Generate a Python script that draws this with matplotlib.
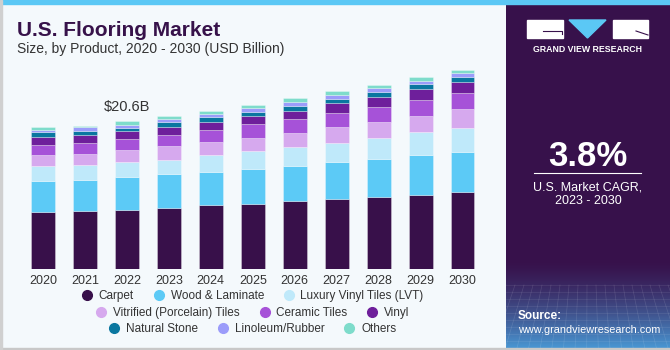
import numpy as np
import matplotlib
matplotlib.use("Agg")
import matplotlib.pyplot as plt
from matplotlib.lines import Line2D
from matplotlib.patches import Rectangle, Polygon

plt.rcParams['font.family'] = ['Liberation Sans', 'DejaVu Sans']

##------------------- DATA (USD Billion)
years = ['2020', '2021', '2022', '2023', '2024', '2025', '2026', '2027', '2028', '2029', '2030']
products = ['Carpet', 'Wood & Laminate', 'Luxury Vinyl Tiles (LVT)',
            'Vitrified (Porcelain) Tiles', 'Ceramic Tiles', 'Vinyl',
            'Natural Stone', 'Linoleum/Rubber', 'Others']

carpet     = [7.94, 8.12, 8.30, 8.50, 8.91, 9.05, 9.47, 9.83, 10.07, 10.39, 10.77]
wood       = [4.36, 4.36, 4.51, 4.74, 4.68, 4.92, 4.87, 5.11, 5.25, 5.49, 5.61]
lvt        = [2.09, 2.05, 2.09, 2.03, 2.28, 2.47, 2.69, 2.69, 3.01, 3.25, 3.30]
vitrified  = [1.49, 1.49, 1.71, 1.95, 1.89, 1.89, 1.99, 2.23, 2.23, 2.27, 2.60]
ceramic    = [1.48, 1.62, 1.53, 1.49, 1.67, 1.91, 1.95, 1.95, 2.09, 2.23, 2.27]
vinyl      = [1.11, 1.07, 1.07, 1.11, 1.11, 1.11, 1.11, 1.31, 1.31, 1.53, 1.49]
stone      = [0.61, 0.60, 0.50, 0.74, 0.61, 0.56, 0.70, 0.64, 0.78, 0.61, 0.78]
linoleum   = [0.32, 0.47, 0.37, 0.37, 0.46, 0.60, 0.56, 0.47, 0.52, 0.46, 0.47]
others     = [0.38, 0.22, 0.52, 0.42, 0.46, 0.38, 0.47, 0.56, 0.42, 0.60, 0.46]

label_year = '2022'
label_text = '$20.6B'

colors = ['#38104a', '#5ccaf6', '#bfe9fa', '#d6a9ee', '#a652d8',
          '#6e1f9b', '#0a77a0', '#9b9cfa', '#7edccb']

series = [carpet, wood, lvt, vitrified, ceramic, vinyl, stone, linoleum, others]

##------------------- FIGURE
W, H = 670, 350
fig = plt.figure(figsize=(6.7, 3.5), dpi=100)
fig.patch.set_facecolor('#f4f9fc')

# frame: top blue strip, left/bottom grey lines
fig.patches.append(Rectangle((0, 1 - 4 / H), 1, 4 / H, transform=fig.transFigure,
                             color='#5bc8f5', zorder=0))
fig.patches.append(Rectangle((0, 0), 1, 2 / H, transform=fig.transFigure,
                             color='#c8c8c8', zorder=0))
fig.patches.append(Rectangle((0, 0), 1.5 / W, 1, transform=fig.transFigure,
                             color='#d0d0d0', zorder=0))

# title
fig.text(17 / W, 1 - 30 / H, 'U.S. Flooring Market', fontsize=15, fontweight='bold',
         color='#37124a', va='center', ha='left')
fig.text(17 / W, 1 - 49 / H, 'Size, by Product, 2020 - 2030 (USD Billion)', fontsize=10,
         color='#333333', va='center', ha='left')

##------------------- BARS
px = 41.95
ax = fig.add_axes([(43 - 0.5 * px) / W, (H - 269.3) / H, 11 * px / W, 30 * 7.18 / H])
ax.set_facecolor('none')
x = np.arange(len(years))
bottom = np.zeros(len(years))
for vals, col, name in zip(series, colors, products):
    ax.bar(x, vals, 0.57, bottom=bottom, color=col, edgecolor=(1, 1, 1, 0.35),
           linewidth=0.6, label=name)
    bottom += np.array(vals)

i = years.index(label_year)
ax.text(x[i], bottom[i] + 1.0, label_text, ha='center', va='bottom', fontsize=10.5,
        color='#333333')

ax.set_xlim(-0.5, len(years) - 0.5)
ax.set_ylim(0, 30)
ax.set_xticks(x)
ax.set_xticklabels(years, fontsize=9, color='#333333')
ax.tick_params(axis='x', length=0, pad=4)
ax.set_yticks([])
for s in ax.spines.values():
    s.set_visible(False)

##------------------- LEGEND (three centred rows)
rows = [[0, 1, 2], [3, 4, 5], [6, 7, 8]]
row_y = [296, 313, 329]
for r, yy in zip(rows, row_y):
    handles = [Line2D([], [], marker='o', linestyle='', markersize=7,
                      color=colors[k]) for k in r]
    leg = fig.legend(handles, [products[k] for k in r], ncol=3, loc='center',
                     bbox_to_anchor=(253 / W, 1 - yy / H), frameon=False,
                     fontsize=8.5, handlelength=0.8, handletextpad=0.6,
                     columnspacing=1.7, labelcolor='#333333')

##------------------- RIGHT PANEL
pan = fig.add_axes([506 / W, 0, 164 / W, 1])
pan.set_xlim(0, 164)
pan.set_ylim(350, 0)
pan.axis('off')
# gradient background: dark purple fading to blue at the bottom
grad = np.ones((350, 1, 3))
c_top = np.array([0x37, 0x11, 0x4b]) / 255
c_bot = np.array([0x4a, 0x9c, 0xd8]) / 255
t = np.clip((np.arange(350) - 260) / 90, 0, 1) ** 1.4
grad[:, 0, :] = c_top[None, :] * (1 - t[:, None]) + c_bot[None, :] * t[:, None]
pan.imshow(grad, extent=(0, 164, 350, 0), aspect='auto', zorder=0)
# faint grid pattern near the bottom
for gx in np.arange(0, 170, 9):
    pan.plot([gx, gx + (gx - 82) * 0.3], [285, 350], color='white', alpha=0.12, lw=0.5)
for gy in np.arange(285, 350, 7):
    pan.plot([0, 164], [gy, gy], color='white', alpha=0.10, lw=0.5)

# logo
pan.add_patch(Rectangle((21, 20), 36, 18, color='white', zorder=2))
pan.add_patch(Polygon([(63, 20), (100, 20), (81.5, 38)], color='#5bc8f5', zorder=2))
pan.add_patch(Rectangle((107, 20), 35, 18, color='white', zorder=2))
pan.plot([37, 56, 56], [31, 31, 34], color='#37114b', lw=0.8, zorder=3)
pan.plot([130, 142], [31, 35], color='#37114b', lw=0.8, zorder=3)
pan.text(81.5, 50, 'GRAND VIEW RESEARCH', color='white', fontsize=6.3,
         fontweight='bold', ha='center', va='center')

pan.text(82, 156, '3.8%', color='white', fontsize=25, fontweight='bold',
         ha='center', va='center')
pan.plot([28, 135], [173, 173], color='white', lw=0.8)
pan.text(82, 187, 'U.S. Market CAGR,', color='white', fontsize=9, ha='center', va='center')
pan.text(82, 201, '2023 - 2030', color='white', fontsize=9, ha='center', va='center')

pan.text(12, 316, 'Source:', color='white', fontsize=8.5, fontweight='bold',
         ha='left', va='center')
pan.text(12, 330, 'www.grandviewresearch.com', color='white', fontsize=7.8,
         ha='left', va='center')

fig.savefig('out.png', dpi=100, facecolor=fig.get_facecolor())
